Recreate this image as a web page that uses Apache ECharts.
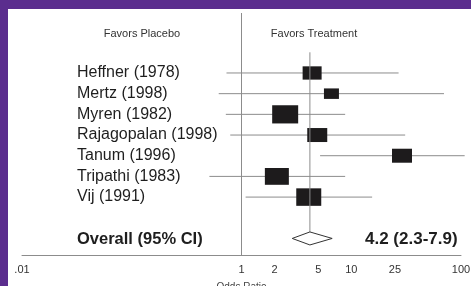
<!DOCTYPE html>
<html>
<head>
<meta charset="utf-8">
<script src="https://cdn.jsdelivr.net/npm/echarts@6/dist/echarts.min.js"></script>
<style>
  html, body { margin: 0; padding: 0; background: #fff; }
  #main { width: 471px; height: 286px; }
</style>
</head>
<body>
<div id="main"></div>
<script>
// studies, top to bottom
var studies = ['Heffner (1978)', 'Mertz (1998)', 'Myren (1982)', 'Rajagopalan (1998)', 'Tanum (1996)', 'Tripathi (1983)', 'Vij (1991)'];
var oddsRatio = [4.4, 6.6, 2.5, 4.9, 29, 2.1, 4.1];
var ciLow = [0.73, 0.62, 0.72, 0.79, 5.2, 0.51, 1.09];
var ciHigh = [27, 70, 8.8, 31, 108, 8.8, 15.5];
var weights = [19, 15, 26, 20, 20, 24, 25];

// overall (pooled) estimate
var overallLabel = 'Overall (95% CI)';
var overallOR = 4.2;
var overallDiamond = [2.9, 6.7];
var overallText = '4.2 (2.3-7.9)';

var tickValues = [0.01, 1, 2, 5, 10, 25, 100];

var myChart = echarts.init(document.getElementById('main'));

var studyData = [];
for (var i = 0; i < studies.length; i++) {
    studyData.push([i + 1, oddsRatio[i], ciLow[i], ciHigh[i], weights[i]]);
}
var overallRow = studies.length + 2;

var textFont = 'Liberation Sans, Arial, sans-serif';

function renderStudy(params, api) {
    var row = api.value(0);
    var c = api.coord([api.value(1), row]);
    var lo = api.coord([api.value(2), row]);
    var hi = api.coord([api.value(3), row]);
    var w = api.value(4), h = w * 0.7;
    return {
        type: 'group',
        children: [
            {type: 'line', shape: {x1: lo[0], y1: c[1], x2: hi[0], y2: c[1]},
                style: {stroke: '#8c8c8c', lineWidth: 1}},
            {type: 'rect', shape: {x: c[0] - w / 2, y: c[1] - h / 2, width: w, height: h},
                style: {fill: '#1d1b1c'}},
            {type: 'text', x: 77, y: c[1],
                style: {text: studies[params.dataIndex], fill: '#1e1e1e', font: '16px ' + textFont, verticalAlign: 'middle'}}
        ]
    };
}

function renderOverall(params, api) {
    var row = api.value(0);
    var c = api.coord([api.value(1), row]);
    var lo = api.coord([api.value(2), row]);
    var hi = api.coord([api.value(3), row]);
    var top = api.coord([api.value(1), 0]);
    var hh = 6.5;
    return {
        type: 'group',
        children: [
            {type: 'line', shape: {x1: c[0], y1: top[1], x2: c[0], y2: c[1] - hh},
                style: {stroke: '#8c8c8c', lineWidth: 1}},
            {type: 'polygon', shape: {points: [[lo[0], c[1]], [c[0], c[1] - hh], [hi[0], c[1]], [c[0], c[1] + hh]]},
                style: {fill: '#fff', stroke: '#333', lineWidth: 1}},
            {type: 'text', x: 77, y: c[1] + 1,
                style: {text: overallLabel, fill: '#1e1e1e', font: 'bold 16.5px ' + textFont, verticalAlign: 'middle'}},
            {type: 'text', x: 365, y: c[1] + 1,
                style: {text: overallText, fill: '#1e1e1e', font: 'bold 17px ' + textFont, verticalAlign: 'middle'}}
        ]
    };
}

function renderNull(params, api) {
    var a = api.coord([1, -1.9]);
    var b = api.coord([1, 9.8]);
    return {type: 'line', shape: {x1: a[0], y1: a[1], x2: b[0], y2: b[1]},
        style: {stroke: '#8c8c8c', lineWidth: 1}};
}

option = {
    animation: false,
    backgroundColor: '#fff',
    grid: {left: 22, right: 10, top: 13, bottom: 31, outerBoundsMode: 'none', containLabel: false},
    xAxis: {
        type: 'log',
        logBase: 10,
        min: 0.01,
        max: 100,
        name: 'Odds Ratio',
        nameLocation: 'middle',
        nameGap: 27,
        nameTextStyle: {color: '#444', fontSize: 10, fontFamily: textFont},
        axisLine: {show: true, onZero: false, lineStyle: {color: '#8c8c8c', width: 1}},
        axisTick: {show: false},
        splitLine: {show: false},
        axisLabel: {
            customValues: tickValues,
            color: '#333',
            fontSize: 11,
            fontFamily: textFont,
            margin: 9,
            formatter: function (v) {
                return Math.abs(v - 0.01) < 1e-6 ? '.01' : String(Math.round(v));
            }
        }
    },
    yAxis: {
        type: 'value',
        inverse: true,
        min: -1.9,
        max: 9.8,
        show: false
    },
    graphic: [
        {type: 'rect', left: 0, top: 0, shape: {width: 471, height: 9}, style: {fill: '#5b2d8e'}},
        {type: 'rect', left: 0, top: 0, shape: {width: 8, height: 286}, style: {fill: '#5b2d8e'}},
        {type: 'text', x: 142, y: 34, style: {text: 'Favors Placebo', fill: '#333', font: '11px ' + textFont, align: 'center', verticalAlign: 'middle'}},
        {type: 'text', x: 314, y: 34, style: {text: 'Favors Treatment', fill: '#333', font: '11px ' + textFont, align: 'center', verticalAlign: 'middle'}}
    ],
    series: [
        {type: 'custom', renderItem: renderNull, data: [[1, 0]], encode: {x: 0, y: 1}, silent: true},
        {type: 'custom', renderItem: renderStudy, data: studyData, encode: {x: [1, 2, 3], y: 0}},
        {type: 'custom', renderItem: renderOverall,
            data: [[overallRow, overallOR, overallDiamond[0], overallDiamond[1]]], encode: {x: [1, 2, 3], y: 0}}
    ]
};

myChart.setOption(option);
</script>
</body>
</html>
